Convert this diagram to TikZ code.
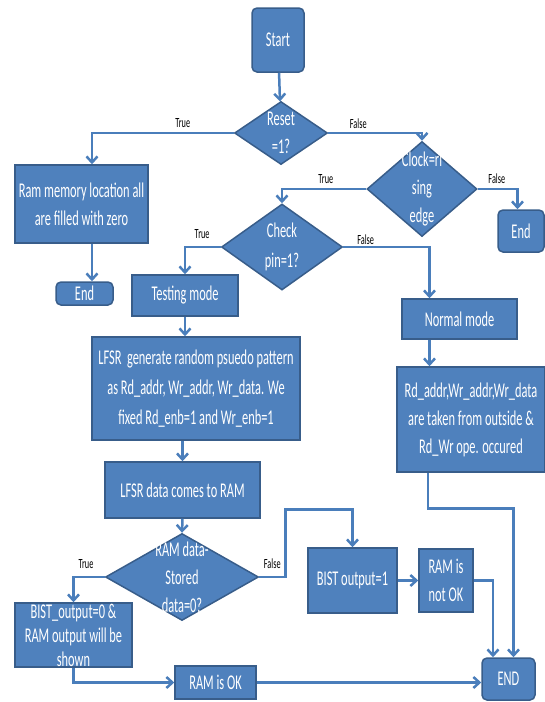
\documentclass[tikz,border=0pt]{standalone}
\usepackage{fontspec}
\setmainfont{Carlito}[FakeStretch=0.59]
\usetikzlibrary{arrows.meta, shapes.geometric}
\definecolor{boxblue}{HTML}{4F81BD}
\definecolor{edgeblue}{HTML}{385D8A}
\definecolor{lineblue}{HTML}{4A7EBB}
\tikzset{
  blk/.style={draw=edgeblue, line width=1.5pt, fill=boxblue, text=white, align=center, inner sep=0pt, font=\fontsize{21}{28}\selectfont},
  rblk/.style={blk, rounded corners=5pt},
  dec/.style={diamond, draw=edgeblue, line width=1.5pt, fill=boxblue, inner sep=0pt},
  dtext/.style={text=white, align=center, inner sep=0pt, font=\fontsize{21}{28}\selectfont},
  arr/.style={draw=lineblue, line width=2.5pt, -{Straight Barb[length=6pt,width=11pt]}},
  tf/.style={font=\fontsize{14}{15}\selectfont, text=black, inner sep=1pt}
}
\begin{document}
\begin{tikzpicture}[x=1pt, y=-1pt]
\useasboundingbox (0,0) rectangle (545,702);

\node[rblk, minimum width=52pt, minimum height=64pt] (start) at (278,40) {Start};
\node[dec, minimum width=93pt, minimum height=63pt, label={[dtext]center:Reset\\=1?}] (reset) at (281,133) {};
\node[blk, minimum width=133pt, minimum height=78pt] (ram) at (81.5,204) {Ram memory location all\\are filled with zero};
\node[rblk, minimum width=57pt, minimum height=23pt] (endL) at (84.5,293.5) {End};
\node[dec, minimum width=110pt, minimum height=95pt, label={[dtext]center:Clock=ri\\sing\\edge}] (clock) at (422,189) {};
\node[rblk, minimum width=46pt, minimum height=42pt] (endR) at (521,231) {End};
\node[dec, minimum width=121pt, minimum height=86pt, label={[dtext, font=\fontsize{21}{30}\selectfont]center:Check\\pin=1?}] (check) at (282,247) {};
\node[blk, minimum width=106pt, minimum height=41pt] (testing) at (185,295.5) {Testing mode};
\node[blk, minimum width=115pt, minimum height=40pt] (normal) at (459.5,319) {Normal mode};
\node[blk, minimum width=208pt, minimum height=103pt, font=\fontsize{21}{30}\selectfont] (lfsr) at (196,388.5) {LFSR\ \ generate random psuedo pattern\\as Rd\_addr, Wr\_addr, Wr\_data. We\\fixed Rd\_enb=1 and Wr\_enb=1};
\node[blk, minimum width=148pt, minimum height=105pt] (rd) at (471,419.5) {Rd\_addr,Wr\_addr,Wr\_data\\are taken from outside \&\\Rd\_Wr ope. occured};
\node[blk, minimum width=155pt, minimum height=56pt] (lfsrdata) at (182.5,490) {LFSR data comes to RAM};
\node[dec, minimum width=153pt, minimum height=87pt, label={[dtext]center:RAM data-\\Stored\\data=0?}] (ramdata) at (182,577) {};
\node[blk, minimum width=117pt, minimum height=64pt, font=\fontsize{21}{24}\selectfont] (bist0) at (73.5,635) {BIST\_output=0 \&\\RAM output will be\\shown};
\node[blk, minimum width=89pt, minimum height=65pt] (bist1) at (352.5,580.5) {BIST output=1};
\node[blk, minimum width=54pt, minimum height=63pt] (notok) at (446,580.5) {RAM is\\not OK};
\node[blk, minimum width=81pt, minimum height=33pt] (ramok) at (215.5,682.5) {RAM is OK};
\node[rblk, minimum width=53pt, minimum height=42pt] (endB) at (508.5,679) {END};

\draw[arr] (start) -- (reset);
\draw[arr] (reset.west) -| node[tf, pos=0.18, above=3pt] {True} ([xshift=10.5pt]ram.north);
\draw[arr] (reset.east) -| node[tf, pos=0.16, above=2pt] {False} (clock.north);
\draw[arr] ([xshift=10.5pt]ram.south) -- ([xshift=7.5pt]endL.north);
\draw[arr] (clock.west) -| node[tf, pos=0.24, above=3pt] {True} (check.north);
\draw[arr] (clock.east) -| node[tf, pos=0.24, above=3pt] {False} ([xshift=-3.5pt]endR.north);
\draw[arr] (check.west) -| node[tf, pos=0.26, above=6pt] {True} (testing.north);
\draw[arr] (check.east) -| node[tf, pos=0.13, above=0pt] {False} ([xshift=-30pt]normal.north);
\draw[arr] (testing.south) -- ([xshift=-11pt]lfsr.north);
\draw[arr] ([xshift=-30pt]normal.south) -- ([xshift=-41.5pt]rd.north);
\draw[arr] ([xshift=-13.5pt]lfsr.south) -- (lfsrdata.north);
\draw[arr] (lfsrdata.south) -- (ramdata.north);
\draw[arr] (ramdata.west) -| node[tf, pos=0.3, above=6pt] {True} (bist0.north);
\draw[arr] (ramdata.east) -- node[tf, above=6pt] {False} ++(26,0) |- ([yshift=38pt]bist1.north) -- (bist1.north);
\draw[arr] (bist1.east) -- (notok.west);
\draw[arr] (notok.east) -| ([xshift=-15.5pt]endB.north);
\draw[arr] ([xshift=-43pt]rd.south) |- ([xshift=5pt,yshift=149pt]endB.north) -- ([xshift=5pt]endB.north);
\draw[arr] (bist0.south) |- (ramok.west);
\draw[arr] (ramok.east) -- (ramok.east -| endB.west);
\end{tikzpicture}
\end{document}
